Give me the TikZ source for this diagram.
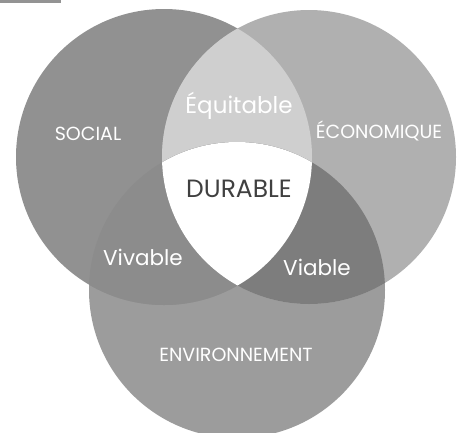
\documentclass[tikz,border=0pt]{standalone}
\usepackage{fontspec}
\setmainfont{Poppins}
\definecolor{socialc}{gray}{0.57}
\definecolor{ecoc}{gray}{0.69}
\definecolor{envc}{gray}{0.61}
\definecolor{equic}{gray}{0.81}
\definecolor{vivc}{gray}{0.55}
\definecolor{viac}{gray}{0.49}
\definecolor{durtext}{gray}{0.25}
\tikzset{
  lbl/.style={text=white, inner sep=0pt, anchor=center},
  caplbl/.style={lbl, font=\fontsize{19}{20}\selectfont},
  biglbl/.style={lbl, font=\fontsize{21.5}{23}\selectfont},
}
\begin{document}
\begin{tikzpicture}[x=1pt,y=-1pt]
\useasboundingbox (0,0) rectangle (460,432);
\fill[white] (0,0) rectangle (460,432);
\clip (0,0) rectangle (460,432);
\fill[gray!85] (0,0) rectangle (61,2.5);
\def\socialpath{(164,157) circle[radius=148]}
\def\ecopath{(309,157) circle[radius=147]}
\def\envpath{(237,290) circle[radius=148]}
% single circles
\fill[envc] \envpath;
\fill[socialc] \socialpath;
\fill[ecoc] \ecopath;
% pairwise intersections
\begin{scope}
  \clip \socialpath;
  \fill[equic] \ecopath;
  \fill[vivc] \envpath;
\end{scope}
\begin{scope}
  \clip \ecopath;
  \fill[viac] \envpath;
\end{scope}
% triple intersection
\begin{scope}
  \clip \socialpath;
  \clip \ecopath;
  \fill[white] \envpath;
\end{scope}
% labels
\node[caplbl] (social) at (88,134) {SOCIAL};
\node[caplbl] (eco) at (379,131) {ÉCONOMIQUE};
\node[caplbl] (env) at (236,355) {ENVIRONNEMENT};
\node[biglbl, font=\fontsize{23}{24}\selectfont] (equi) at (239,106) {Équitable};
\node[biglbl, text=durtext, font=\fontsize{25}{26}\selectfont] (dur) at (239,189) {DURABLE};
\node[biglbl] (viv) at (143,257) {Vivable};
\node[biglbl] (via) at (317,267) {Viable};
\end{tikzpicture}
\end{document}
